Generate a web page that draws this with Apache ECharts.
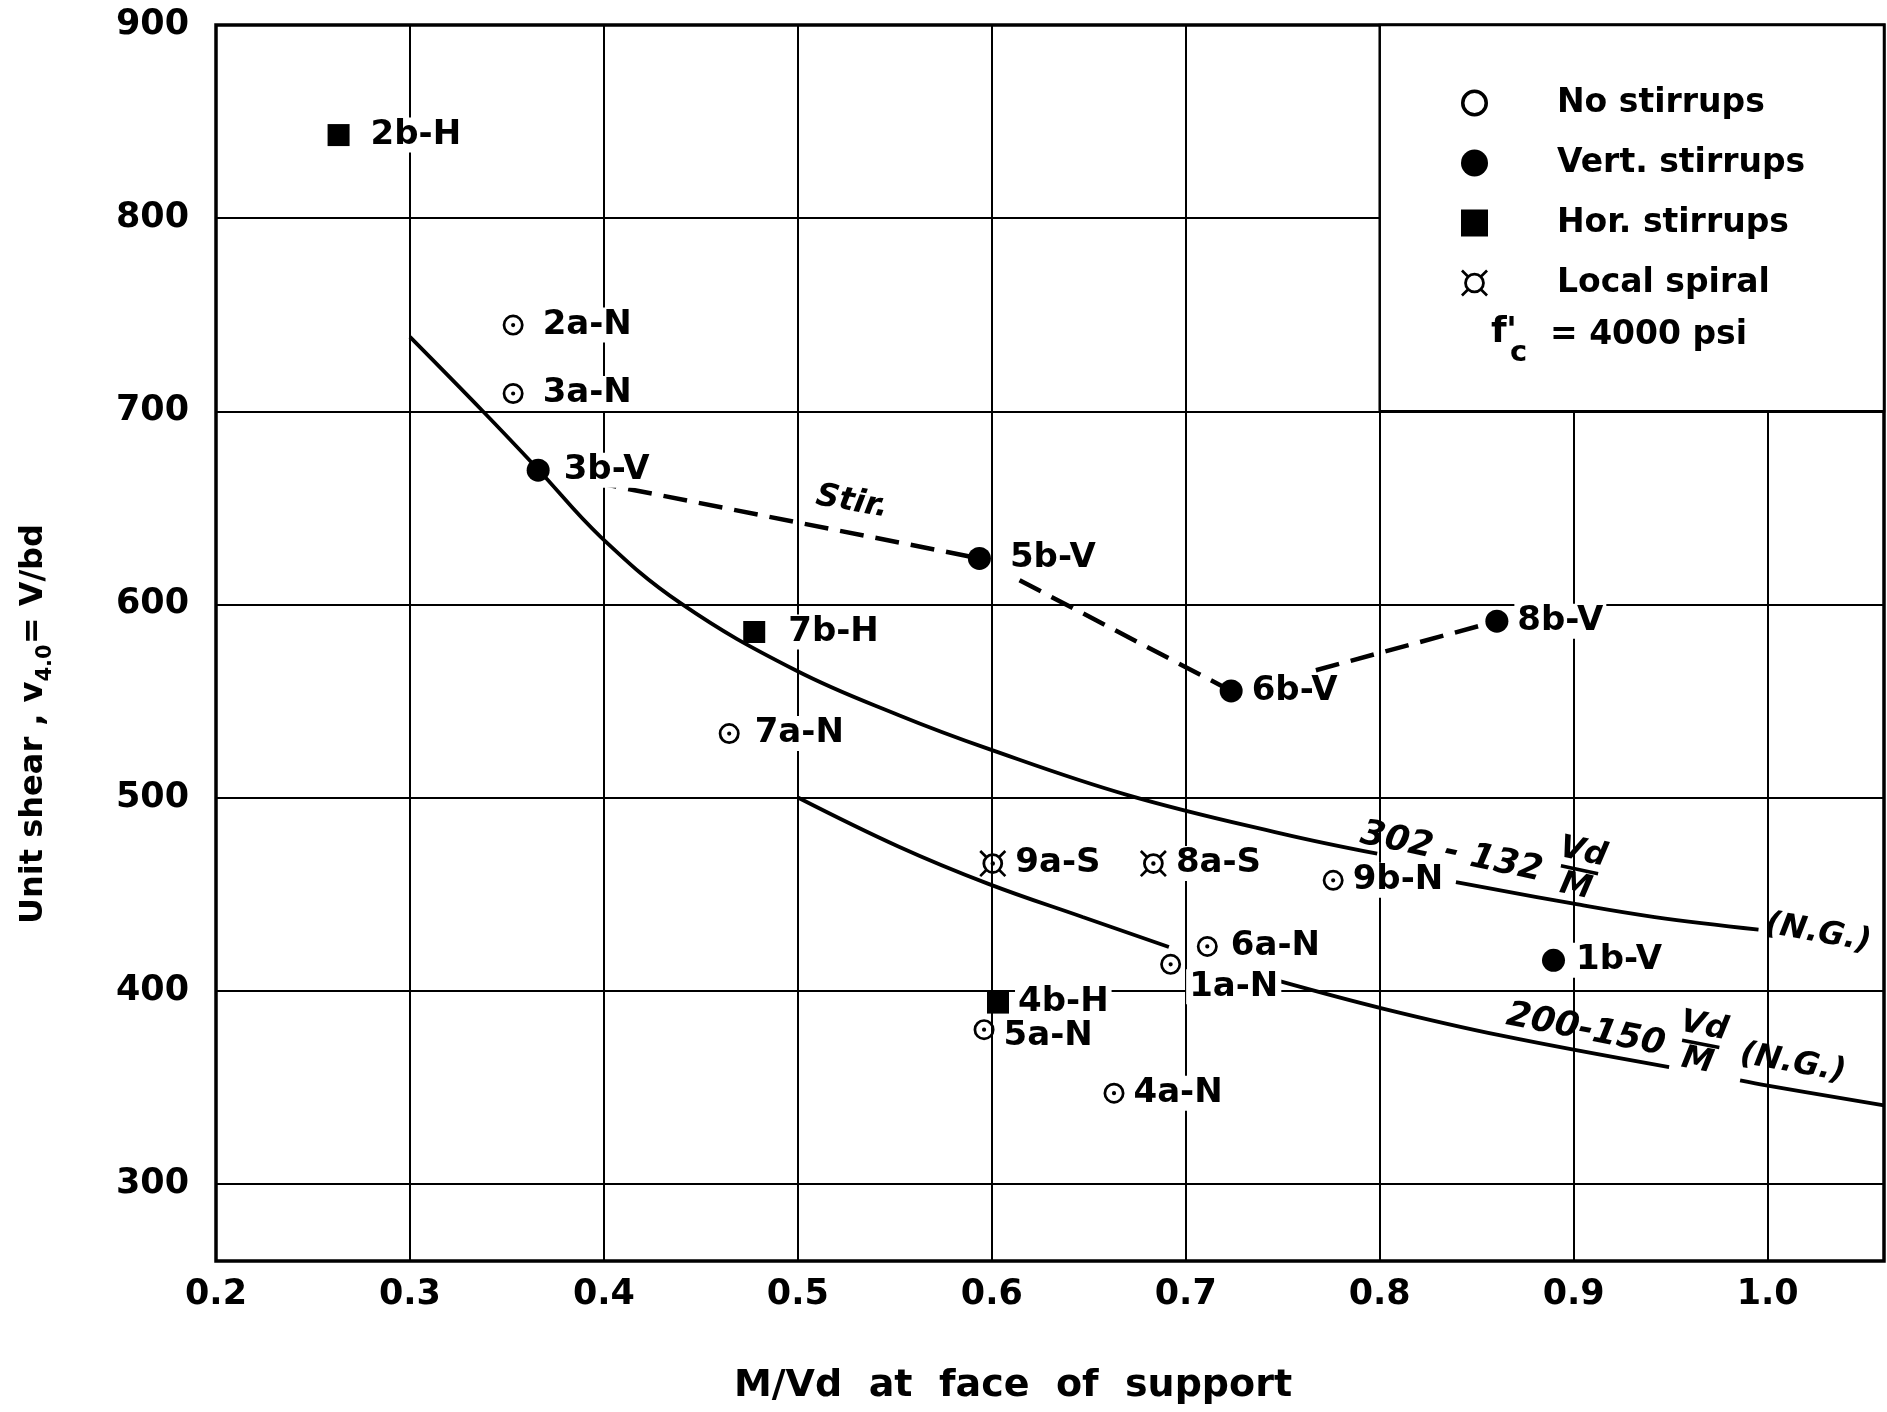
<!DOCTYPE html>
<html><head><meta charset="utf-8">
<script src="https://cdn.jsdelivr.net/npm/echarts@6/dist/echarts.min.js"></script>
<style>html,body{margin:0;padding:0;background:#fff}#c{width:1887px;height:1412px}</style>
</head><body><div id="c"></div>
<script>
// ---------------- data ----------------
const xTickValues = [0.2, 0.3, 0.4, 0.5, 0.6, 0.7, 0.8, 0.9, 1.0];
const yTickValues = [300, 400, 500, 600, 700, 800, 900];

const noStirNames = ['2a-N', '3a-N', '7a-N', '9b-N', '6a-N', '1a-N', '5a-N', '4a-N'];
const noStirX     = [0.3532, 0.3532, 0.4646, 0.7760, 0.7111, 0.6922, 0.5960, 0.6630];
const noStirY     = [744.6, 709.2, 533.1, 457.1, 422.9, 413.6, 379.8, 346.9];

const vertNames = ['3b-V', '5b-V', '6b-V', '8b-V', '1b-V'];
const vertX     = [0.3661, 0.5936, 0.7234, 0.8604, 0.8896];
const vertY     = [669.5, 623.8, 555.2, 591.3, 415.7];

const horNames = ['2b-H', '7b-H', '4b-H'];
const horX     = [0.2632, 0.4775, 0.6032];
const horY     = [843.0, 585.7, 393.8];

const spiralNames = ['9a-S', '8a-S'];
const spiralX     = [0.6005, 0.6833];
const spiralY     = [465.8, 465.8];

// curve "302 - 132 Vd/M" (two drawn pieces)
const c302aX = [0.300, 0.3376, 0.366, 0.3983, 0.4397, 0.4986, 0.5521, 0.5979, 0.6705, 0.7494, 0.7987];
const c302aY = [738.5, 700.0, 670.0, 635.0, 600.5, 566.0, 542.6, 525.3, 501.1, 481.3, 470.9];
const c302bX = [0.8393, 0.9000, 0.9418, 0.9953];
const c302bY = [456.2, 445.0, 438.1, 431.6];

// curve "200 - 150 Vd/M" (three drawn pieces)
const c200aX = [0.500, 0.5521, 0.5979, 0.6468, 0.6913];
const c200aY = [500.0, 474.5, 455.4, 438.1, 422.6];
const c200bX = [0.747, 0.8016, 0.8623, 0.9492];
const c200bY = [405.3, 390.7, 376.8, 360.4];
const c200cX = [0.9858, 1.000, 1.060];
const c200cY = [353.5, 350.8, 340.6];

// dashed "Stir." line pieces
const stirAX = [0.3943, 0.5936]; const stirAY = [663.4, 623.8];
const stirBX = [0.6143, 0.7234]; const stirBY = [612.5, 555.2];
const stirCX = [0.7671, 0.8604]; const stirCY = [565.9, 591.3];

// text notes on the plot (anchor in data units)
const noteTexts = ['Stir.', '302 - 132', 'Vd/M', '(N.G.)', '200-150', 'Vd/M', '(N.G.)'];
const noteX     = [0.5279, 0.8370, 0.9030, 1.0260, 0.9062, 0.9655, 1.0130];
const noteY     = [652.9, 471.5, 462.6, 429.7, 379.4, 372.4, 362.3];

const legendNames = ['No stirrups', 'Vert. stirrups', 'Hor. stirrups', 'Local spiral'];

// ---------------- styling ----------------
const FONT = 'DejaVu Sans';
const T = 'rgba(0,0,0,0)';
const RING = 'M0,-10A10,10,0,1,1,0,10A10,10,0,1,1,0,-10ZM0,-7.4A7.4,7.4,0,1,0,0,7.4A7.4,7.4,0,1,0,0,-7.4Z';
const DOT = 'M0,-2A2,2,0,1,1,0,2A2,2,0,1,1,0,-2Z';
const SPIRAL = 'M0,-7A7,7,0,1,1,0,7A7,7,0,1,1,0,-7ZM0,-5.1A5.1,5.1,0,1,0,0,5.1A5.1,5.1,0,1,0,0,-5.1Z' +
  'M3.253,4.525L4.525,3.253L9.121,7.849L7.849,9.121Z' +
  'M-4.525,3.253L-3.253,4.525L-7.849,9.121L-9.121,7.849Z' +
  'M-3.253,-4.525L-4.525,-3.253L-9.121,-7.849L-7.849,-9.121Z' +
  'M4.525,-3.253L3.253,-4.525L7.849,-9.121L9.121,-7.849Z';
const SDOT = 'M0,-1.5A1.5,1.5,0,1,1,0,1.5A1.5,1.5,0,1,1,0,-1.5Z';

// per-label distance tweaks (style only)
const labelDistance = {'2b-H': 18, '2a-N': 16, '3a-N': 16, '7b-H': 20, '5b-V': 16, '3b-V': 11, '7a-N': 12, '6a-N': 10, '1b-V': 8};
const labelSpecial = {
  '1a-N': {position: [26, 33], verticalAlign: 'middle', align: 'left'},
  '5a-N': {offset: [0, 7]}
};
const noteKind = ['st', 'eq', 'fr', 'ng', 'eq', 'fr', 'ng'];
const noteRot  = [-10, -12, -12, -10, -11, -11, -10];

function zip(xs, ys) { return xs.map((x, i) => [x, ys[i]]); }
function pts(names, xs, ys) {
  return names.map((n, i) => {
    const item = {name: n, value: [xs[i], ys[i]]};
    const lab = {};
    if (labelDistance[n] !== undefined) lab.distance = labelDistance[n];
    if (labelSpecial[n]) Object.assign(lab, labelSpecial[n]);
    if (Object.keys(lab).length) item.label = lab;
    return item;
  });
}

const pointLabel = {
  show: true, position: 'right', distance: 6,
  formatter: p => p.name,
  fontSize: 34, fontWeight: 'bold', fontFamily: FONT, color: '#000',
  backgroundColor: '#fff', padding: [1, 3, 0, 3]
};

function scatter(name, symbol, size, names, xs, ys) {
  return {
    type: 'scatter', name: name, symbol: symbol, symbolSize: size, z: 5,
    itemStyle: {color: '#000', opacity: 1},
    label: pointLabel,
    emphasis: {disabled: true},
    data: pts(names, xs, ys)
  };
}
function curve(id, xs, ys, dashed) {
  return {
    type: 'line', name: id, z: 3, smooth: dashed ? false : 0.4, showSymbol: false, symbol: 'none',
    silent: true,
    lineStyle: dashed ? {color: '#000', width: 4.5, type: [24, 12]} : {color: '#000', width: 3.8},
    data: zip(xs, ys)
  };
}

const noteRich = {
  st: {fontSize: 32, fontStyle: 'italic', fontWeight: 'bold', fontFamily: FONT, color: '#000', opacity: 1},
  eq: {fontSize: 35, fontStyle: 'italic', fontWeight: 'bold', fontFamily: FONT, color: '#000', opacity: 1},
  ng: {fontSize: 32, fontStyle: 'italic', fontWeight: 'bold', fontFamily: FONT, color: '#000', opacity: 1},
  f:  {fontSize: 32, fontStyle: 'italic', fontWeight: 'bold', fontFamily: FONT, color: '#000', align: 'center', lineHeight: 30, opacity: 1},
  bar:{width: 38, height: 3.5, backgroundColor: '#000', align: 'center', lineHeight: 5}
};
const notesData = noteTexts.map((t, i) => {
  let txt;
  if (noteKind[i] === 'fr') { const [a, b] = t.split('/'); txt = '{f|' + a + '}\n{bar|}\n{f|' + b + '}'; }
  else txt = '{' + noteKind[i] + '|' + t + '}';
  return {value: [noteX[i], noteY[i]], label: {rotate: noteRot[i], formatter: txt}};
});

const chart = echarts.init(document.getElementById('c'), null, {renderer: 'canvas'});
const option = {
  animation: false,
  backgroundColor: '#fff',
  textStyle: {fontFamily: FONT, color: '#000'},
  grid: {left: 216, right: 2, top: 25, bottom: 151, show: true, borderColor: '#000', borderWidth: 3.5, backgroundColor: T},
  xAxis: {
    type: 'value', min: 0.2, max: 1.06, interval: 0.1,
    axisLine: {show: false}, axisTick: {show: false},
    axisLabel: {margin: 16, fontSize: 35, fontWeight: 'bold', color: '#000', fontFamily: FONT,
      formatter: v => { const k = v * 10; return (Math.abs(k - Math.round(k)) < 1e-6 && xTickValues.some(t => Math.abs(t - v) < 1e-6)) ? v.toFixed(1) : ''; }},
    splitLine: {show: true, lineStyle: {color: '#000', width: 2}},
    name: 'M/Vd  at  face  of  support', nameLocation: 'middle', nameGap: 106,
    nameTextStyle: {fontSize: 38, fontWeight: 'bold', color: '#000', fontFamily: FONT, padding: [0, 74, 0, 0]}
  },
  yAxis: {
    type: 'value', min: 260, max: 900, interval: 20,
    axisLine: {show: false}, axisTick: {show: false},
    axisLabel: {margin: 27, fontSize: 35, fontWeight: 'bold', color: '#000', fontFamily: FONT,
      formatter: v => yTickValues.indexOf(Math.round(v)) >= 0 ? String(Math.round(v)) : ''},
    splitLine: {show: true, lineStyle: {color: [T, T, '#000', T, T], width: 2}},
    name: '{a|Unit shear , v}{s|4.0}{a|= V/bd}', nameLocation: 'middle', nameGap: 160,
    nameTextStyle: {padding: [0, 162, 0, 0],
      rich: {a: {fontSize: 32, fontWeight: 'bold', lineHeight: 44, fontFamily: FONT, color: '#000'},
             s: {fontSize: 21, fontWeight: 'bold', lineHeight: 24, verticalAlign: 'bottom', fontFamily: FONT, color: '#000'}}}
  },
  legend: {
    orient: 'vertical', left: 1456, top: 78, itemWidth: 27, itemHeight: 27, itemGap: 20,
    selectedMode: false, z: 8,
    textStyle: {fontSize: 33, fontWeight: 'bold', fontFamily: FONT, color: '#000', lineHeight: 40, padding: [0, 0, 0, 64]},
    data: [
      {name: legendNames[0], icon: 'path://' + RING},
      {name: legendNames[1], icon: 'circle'},
      {name: legendNames[2], icon: 'rect'},
      {name: legendNames[3], icon: 'path://' + SPIRAL}
    ]
  },
  graphic: [
    {type: 'text', x: 1491, y: 333, z: 20, style: {text: 'f', font: 'bold 36px "DejaVu Sans"', fill: '#000', verticalAlign: 'middle'}},
    {type: 'text', x: 1506, y: 333, z: 20, style: {text: "'", font: 'bold 36px "DejaVu Sans"', fill: '#000', verticalAlign: 'middle'}},
    {type: 'text', x: 1510, y: 353, z: 20, style: {text: 'c', font: 'bold 29px "DejaVu Sans"', fill: '#000', verticalAlign: 'middle'}},
    {type: 'text', x: 1550, y: 335, z: 20, style: {text: '= 4000 psi', font: 'bold 33px "DejaVu Sans"', fill: '#000', verticalAlign: 'middle'}}
  ],
  series: [
    curve('c302a', c302aX, c302aY), curve('c302b', c302bX, c302bY),
    curve('c200a', c200aX, c200aY), curve('c200b', c200bX, c200bY), curve('c200c', c200cX, c200cY),
    curve('stirA', stirAX, stirAY, true), curve('stirB', stirBX, stirBY, true), curve('stirC', stirCX, stirCY, true),
    scatter(legendNames[0], 'path://' + RING + DOT, 21, noStirNames, noStirX, noStirY),
    scatter(legendNames[1], 'circle', 23, vertNames, vertX, vertY),
    scatter(legendNames[2], 'rect', 22, horNames, horX, horY),
    scatter(legendNames[3], 'path://' + SPIRAL + SDOT, 27, spiralNames, spiralX, spiralY),
    {
      type: 'scatter', name: 'notes', symbolSize: 0.1, z: 6, silent: true,
      itemStyle: {color: '#000', opacity: 0},
      label: {show: true, position: 'inside', color: '#000', opacity: 1, rich: noteRich},
      data: notesData,
      markArea: {silent: true, itemStyle: {color: '#fff', borderColor: '#000', borderWidth: 2.5},
        data: [[{coord: [0.8, 700]}, {coord: [1.06, 900]}]]}
    }
  ]
};
chart.setOption(option);
</script>
</body></html>
